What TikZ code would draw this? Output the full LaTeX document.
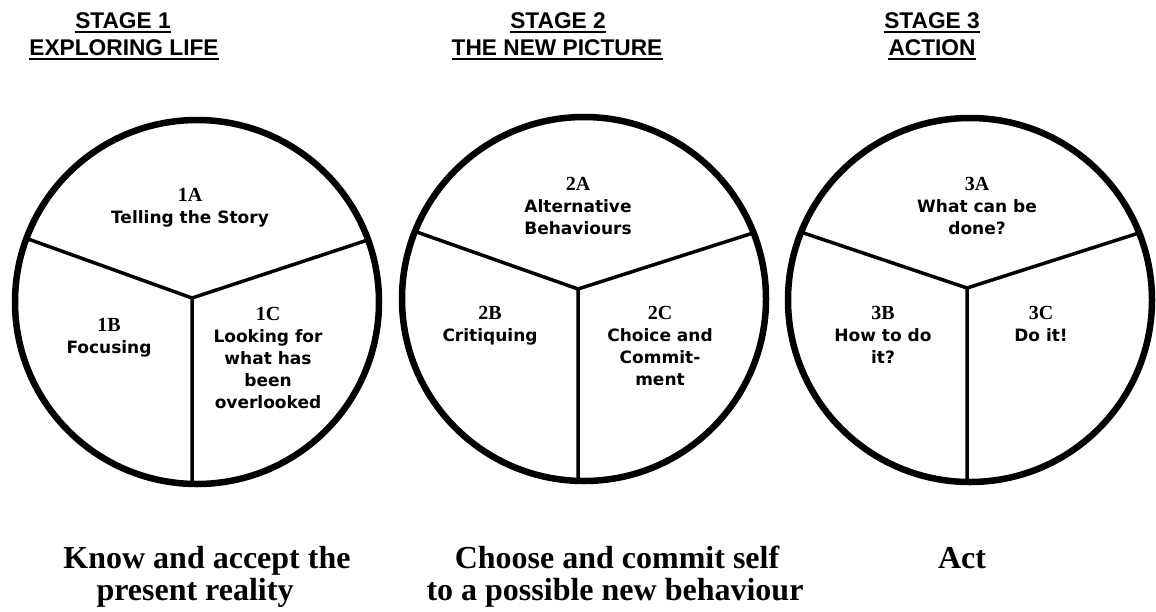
\documentclass[tikz,border=0pt]{standalone}
\usepackage{fontspec}
\setmainfont{Liberation Serif}
\newfontfamily\hdrfont{Liberation Sans}
\newfontfamily\lblfont{DejaVu Sans}
\newfontfamily\numfont{Liberation Serif}
\newcommand\numtxt[1]{{\numfont\bfseries\fontsize{20}{22}\selectfont #1}}
\begin{document}
\begin{tikzpicture}[x=1pt,y=-1pt,
  ring/.style={line width=6.5pt},
  divider/.style={line width=3.5pt},
  hdr/.style={font=\hdrfont\bfseries\fontsize{22.7}{27}\selectfont, inner sep=0pt, anchor=base},
  lbl/.style={font=\lblfont\bfseries\fontsize{17}{22}\selectfont, align=center, inner sep=0pt, anchor=north},
  bottomtxt/.style={font=\bfseries\fontsize{32}{33}\selectfont, inner sep=0pt, anchor=base},
  uline/.style={line width=2pt}]
\useasboundingbox (0,0) rectangle (1156,611);

% headers
\node[hdr] (h1a) at (123,28) {STAGE 1};
\node[hdr] (h1b) at (124,55) {EXPLORING LIFE};
\node[hdr] (h2a) at (558,28) {STAGE 2};
\node[hdr] (h2b) at (557,55) {THE NEW PICTURE};
\node[hdr] (h3a) at (932,28) {STAGE 3};
\node[hdr] (h3b) at (932,55) {ACTION};
\foreach \n in {h1a,h1b,h2a,h2b,h3a,h3b}
  \draw[uline] ([yshift=-4pt]\n.base west) -- ([yshift=-4pt]\n.base east);

% circles
\coordinate (c1) at (197,302); \coordinate (j1) at (192,298);
\coordinate (c2) at (584,299); \coordinate (j2) at (578,289);
\coordinate (c3) at (970,300); \coordinate (j3) at (967,288);

\begin{scope}
  \clip (c1) circle[radius=182];
  \draw[divider] (j1) -- ++(-300,-108) (j1) -- ++(300,-99) (j1) -- ++(0,300);
\end{scope}
\begin{scope}
  \clip (c2) circle[radius=182];
  \draw[divider] (j2) -- ++(-300,-106) (j2) -- ++(300,-96) (j2) -- ++(0,300);
\end{scope}
\begin{scope}
  \clip (c3) circle[radius=182];
  \draw[divider] (j3) -- ++(-300,-101) (j3) -- ++(300,-96) (j3) -- ++(0,300);
\end{scope}
\draw[ring] (c1) circle[radius=182];
\draw[ring] (c2) circle[radius=182];
\draw[ring] (c3) circle[radius=182];

% labels circle 1
\node[lbl] (l1a) at (190,188) {\numtxt{1A}\\Telling the Story};
\node[lbl] (l1b) at (109,318) {\numtxt{1B}\\Focusing};
\node[lbl] (l1c) at (268,307) {\numtxt{1C}\\Looking for\\what has\\been\\overlooked};
% labels circle 2
\node[lbl] (l2a) at (578,177) {\numtxt{2A}\\Alternative\\Behaviours};
\node[lbl] (l2b) at (490,306) {\numtxt{2B}\\Critiquing};
\node[lbl] (l2c) at (660,306) {\numtxt{2C}\\Choice and\\Commit-\\ment};
% labels circle 3
\node[lbl] (l3a) at (977,177) {\numtxt{3A}\\What can be\\done?};
\node[lbl] (l3b) at (883,306) {\numtxt{3B}\\How to do\\it?};
\node[lbl] (l3c) at (1041,306) {\numtxt{3C}\\Do it!};

% bottom texts
\node[bottomtxt] (b1a) at (207,568) {Know and accept the};
\node[bottomtxt] (b1b) at (195,600) {present reality};
\node[bottomtxt] (b2a) at (617,568) {Choose and commit self};
\node[bottomtxt] (b2b) at (615,600) {to a possible new behaviour};
\node[bottomtxt] (b3) at (962,568) {Act};
\end{tikzpicture}
\end{document}
